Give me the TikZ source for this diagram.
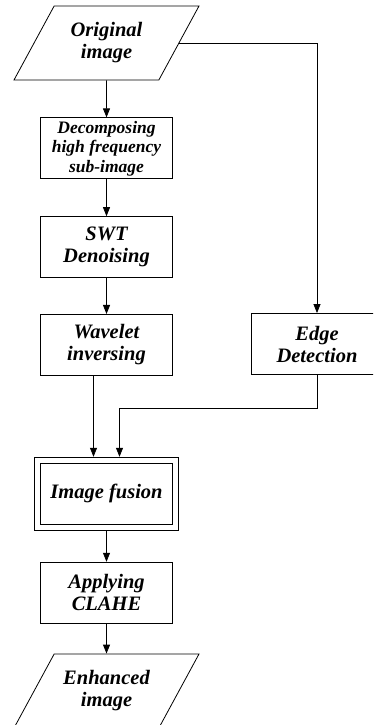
\documentclass[tikz,border=0pt]{standalone}
\usepackage{fontspec}
\setmainfont{Liberation Serif}
\usetikzlibrary{arrows.meta,positioning,calc,shapes.geometric}
\tikzset{
 box/.style={draw,line width=0.8pt,align=center,font=\bfseries\itshape\fontsize{20.5}{22}\selectfont,minimum width=132pt,minimum height=61pt,inner sep=2pt},
 io/.style={box,trapezium,trapezium left angle=48,trapezium right angle=132,trapezium stretches body=true,minimum width=185pt,minimum height=74pt},
 fuse/.style={box,double,double distance=5.2pt,minimum width=138.5pt,minimum height=67pt,outer sep=3.5pt},
 arr/.style={-{Triangle[length=9pt,width=7pt]},line width=0.8pt}
}
\begin{document}
\begin{tikzpicture}[x=1pt,y=1pt]
\clip (0,0) rectangle (373,725);
\node[io] (orig) at (106.5,682) {Original\\image};
\node[box,font=\bfseries\itshape\fontsize{17.5}{19.5}\selectfont,below=37pt of orig] (decomp) {Decomposing\\high frequency\\sub-image};
\node[box,below=37pt of decomp] (swt) {SWT\\Denoising};
\node[box,below=36pt of swt] (wave) {Wavelet\\inversing};
\node[box] (edge) at (317,381) {Edge\\Detection};
\node[fuse,below=81pt of wave] (fusion) {Image fusion};
\node[box,below=31pt of fusion] (clahe) {Applying\\CLAHE};
\node[io,below=30pt of clahe] (enh) {Enhanced\\image};
\coordinate (bend) at ($(edge.south)+(0,-34)$);
\foreach \x/\y in {orig/decomp,decomp/swt,swt/wave,fusion/clahe,clahe/enh} \draw[arr] (\x)--(\y);
\draw[arr] (orig.east) -| (edge.north);
\draw[arr] ([xshift=-13pt]wave.south) -- ([xshift=-13pt]fusion.north);
\draw[arr] (edge.south) -- (bend) -| ([xshift=13pt]fusion.north);
\end{tikzpicture}
\end{document}
